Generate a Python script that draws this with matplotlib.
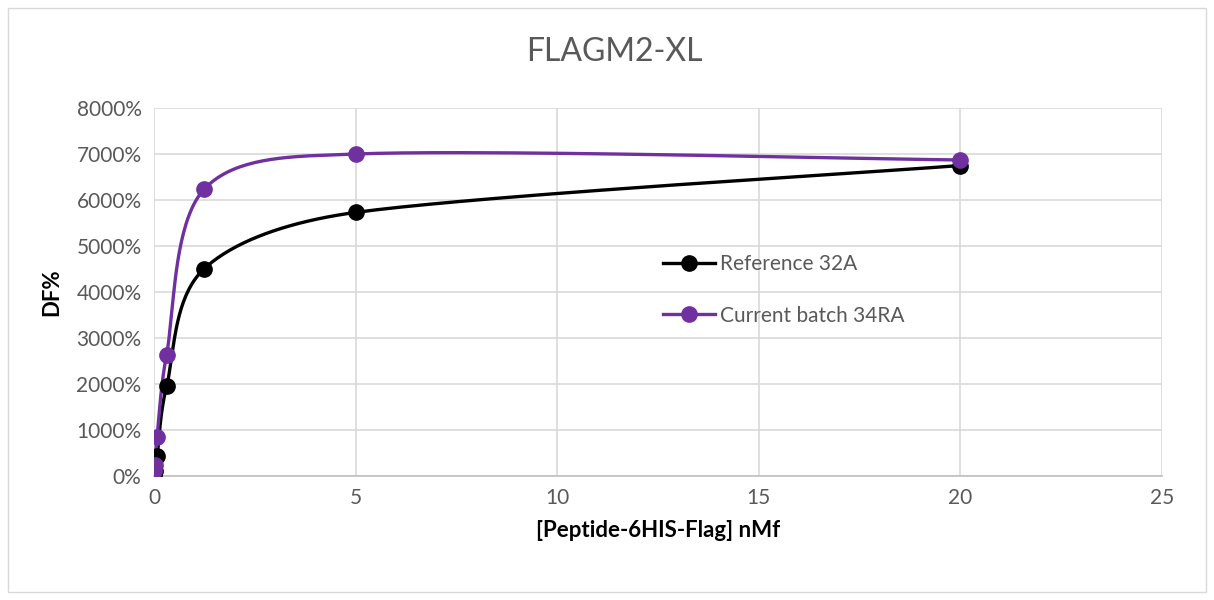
import numpy as np
import matplotlib
matplotlib.use("Agg")
import matplotlib.pyplot as plt
from matplotlib.patches import Rectangle
from matplotlib.ticker import FuncFormatter

plt.rcParams['font.family'] = ['Lato', 'DejaVu Sans']

concentration = [20, 5, 1.25, 0.3125, 0.078, 0.0195, 0.0049]
reference32A = [6750, 5730, 4510, 1950, 430, 100, 20]
currentBatch34RA = [6870, 7000, 6240, 2640, 850, 250, 100]
seriesNames = ['Reference 32A', 'Current batch 34RA']
seriesColors = ['#000000', '#7030A0']

W, H = 1214, 600
xMax, yMax = 25, 8000
axLeft, axRight, axTop, axBottom = 154, 1162, 108, 476


def smoothCurve(xs, ys, sx, sy, steps=40):
    # Excel-like smoothed line, computed in screen space, with control arms
    # limited by the segment length
    p = np.column_stack([np.asarray(xs) * sx, np.asarray(ys) * sy])
    out = []
    n = len(p)

    def arm(v, segLen):
        m = np.hypot(*v)
        lim = segLen * 0.4
        return v * (lim / m) if m > lim else v

    for i in range(n - 1):
        p0 = p[i - 1] if i > 0 else p[i]
        p1, p2 = p[i], p[i + 1]
        p3 = p[i + 2] if i + 2 < n else p[i + 1]
        segLen = np.hypot(*(p2 - p1))
        c1 = p1 + arm((p2 - p0) / 6, segLen)
        c2 = p2 - arm((p3 - p1) / 6, segLen)
        t = np.linspace(0, 1, steps)[:, None]
        seg = (1 - t) ** 3 * p1 + 3 * (1 - t) ** 2 * t * c1 + 3 * (1 - t) * t ** 2 * c2 + t ** 3 * p2
        out.append(seg)
    pts = np.vstack(out)
    return pts[:, 0] / sx, pts[:, 1] / sy


fig = plt.figure(figsize=(W / 100, H / 100), dpi=100)
fig.patches.append(Rectangle((8 / W, 8 / H), (W - 16) / W, (H - 16) / H, transform=fig.transFigure,
                             fill=False, edgecolor='#d9d9d9', linewidth=1))
ax = fig.add_axes([axLeft / W, (H - axBottom) / H, (axRight - axLeft) / W, (axBottom - axTop) / H])

sx = (axRight - axLeft) / xMax
sy = (axBottom - axTop) / yMax
for vals, name, col in zip([reference32A, currentBatch34RA], seriesNames, seriesColors):
    cx, cy = smoothCurve(concentration, vals, sx, sy)
    ax.plot(cx, cy, color=col, linewidth=2.4, solid_capstyle='round', zorder=3)
    ax.plot(concentration, vals, 'o', color=col, markersize=11, zorder=4)
    ax.plot([], [], '-o', color=col, linewidth=2.4, markersize=11, label=name)

ax.set_xlim(0, xMax)
ax.set_ylim(0, yMax)
ax.set_xticks(np.arange(0, 26, 5))
ax.set_yticks(np.arange(0, 8001, 1000))
ax.yaxis.set_major_formatter(FuncFormatter(lambda v, p: f'{int(v)}%'))
ax.tick_params(length=0, labelsize=15, labelcolor='#595959', pad=9)
ax.grid(True, color='#d9d9d9', linewidth=1.2)
ax.set_axisbelow(True)
for s in ['top', 'right', 'left']:
    ax.spines[s].set_visible(False)
ax.spines['bottom'].set_color('#bfbfbf')
ax.spines['bottom'].set_linewidth(1.2)

fig.text(614 / W, 1 - 52 / H, 'FLAGM2-XL', fontsize=23, color='#595959', ha='center', va='center')
ax.set_xlabel('[Peptide-6HIS-Flag] nMf', fontsize=16, fontweight='bold', labelpad=8)
ax.set_ylabel('DF%', fontsize=16, fontweight='bold', labelpad=10)

leg = ax.legend(loc='upper left', bbox_to_anchor=(0.497, 0.625), frameon=False, fontsize=15,
                labelspacing=1.5, handlelength=2.5, handletextpad=0.2, borderaxespad=0)
for t in leg.get_texts():
    t.set_color('#595959')

fig.savefig('out.png', dpi=100)
